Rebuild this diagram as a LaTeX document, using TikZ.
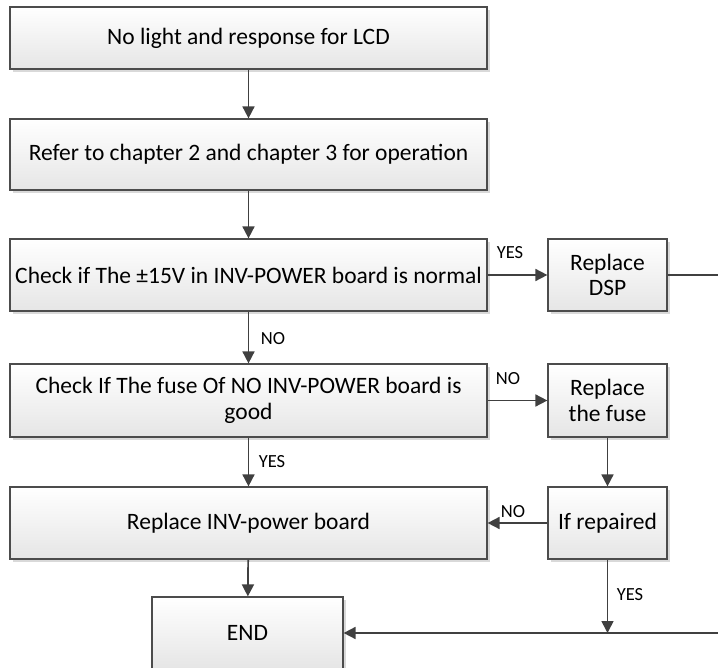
\documentclass[tikz,border=0pt]{standalone}
\usepackage{fontspec}
\setmainfont{Carlito}
\usetikzlibrary{arrows.meta,shadows}
\begin{document}
\begin{tikzpicture}[x=1pt,y=-1pt,
  box/.style={draw=black!70,line width=1.2pt,top color=white,bottom color=black!10,
    drop shadow={shadow xshift=3pt,shadow yshift=-3pt,fill=black!15,opacity=1},
    font=\fontsize{23.5}{25.5}\selectfont,align=center,inner sep=0pt},
  conn/.style={draw=black!75,line width=1.7pt},
  arr/.style={conn,-{Triangle[length=12pt,width=12pt]}},
  lbl/.style={font=\fontsize{18.5}{20}\selectfont,inner sep=0pt}]
\useasboundingbox (0,0) rectangle (718,668);
\node[box,minimum width=477pt,minimum height=62pt] (b1) at (248.5,38) {No light and response for LCD};
\node[box,minimum width=477pt,minimum height=71pt] (b2) at (248.5,154.5) {Refer to chapter 2 and chapter 3 for operation};
\node[box,minimum width=477pt,minimum height=72pt] (b3) at (248.5,275) {Check if The ±15V in INV-POWER board is normal};
\node[box,minimum width=477pt,minimum height=73pt] (b4) at (248.5,400.5) {Check If The fuse Of NO INV-POWER board is\\good};
\node[box,minimum width=477pt,minimum height=72pt] (b5) at (248.5,523) {Replace INV-power board};
\node[box,minimum width=191pt,minimum height=72pt] (end) at (247.5,633) {END};
\node[box,minimum width=119pt,minimum height=72pt] (dsp) at (607.5,275) {Replace\\DSP};
\node[box,minimum width=119pt,minimum height=73pt] (fuse) at (607.5,400.5) {Replace\\the fuse};
\node[box,minimum width=119pt,minimum height=72pt] (rep) at (607.5,523) {If repaired};
\coordinate (dspR) at (718,275);
\coordinate (botR) at (718,633);
\draw[arr] (b1) -- (b2);
\draw[arr] (b2) -- (b3);
\draw[arr] (b3) -- (b4);
\draw[arr] (b4) -- (b5);
\draw[arr] (b5) -- (end);
\draw[arr] (b3) -- (dsp);
\draw[arr] (b4) -- (fuse);
\draw[arr] (fuse) -- (rep);
\draw[arr] (rep) -- (b5);
\draw[conn] (dsp) -- (dspR);
\draw[arr] (botR) -- (end);
\draw[arr] (rep.south) -- (rep.south |- botR);
\node[lbl] (l1) at (510,253) {YES};
\node[lbl] (l2) at (273,339) {NO};
\node[lbl] (l3) at (508,379) {NO};
\node[lbl] (l4) at (272,462) {YES};
\node[lbl] (l5) at (513,512) {NO};
\node[lbl] (l6) at (630,595) {YES};
\end{tikzpicture}
\end{document}
